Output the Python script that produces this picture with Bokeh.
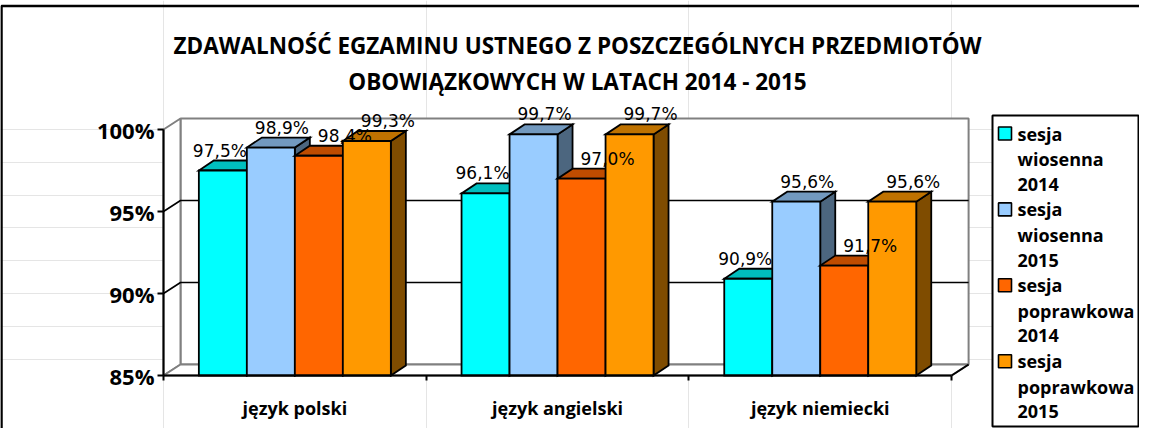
from bokeh.plotting import figure
from bokeh.models import Range1d, LinearAxis, FixedTicker, PrintfTickFormatter
from bokeh.embed import file_html
from bokeh.resources import INLINE
from bokeh.core.properties import value

# ---------------- data ----------------
categories = ["język polski", "język angielski", "język niemiecki"]
series_names = ["sesja\nwiosenna\n2014", "sesja\nwiosenna\n2015",
                "sesja\npoprawkowa\n2014", "sesja\npoprawkowa\n2015"]
wiosenna_2014 = [97.5, 96.1, 90.9]
wiosenna_2015 = [98.9, 99.7, 95.6]
poprawkowa_2014 = [98.4, 97.0, 91.7]
poprawkowa_2015 = [99.3, 99.7, 95.6]
y_ticks = [85, 90, 95, 100]
title_lines = ["ZDAWALNOŚĆ EGZAMINU USTNEGO Z POSZCZEGÓLNYCH PRZEDMIOTÓW",
               "OBOWIĄZKOWYCH W LATACH 2014 - 2015"]

series = [wiosenna_2014, wiosenna_2015, poprawkowa_2014, poprawkowa_2015]
colors = ["#00FFFF", "#99CCFF", "#FF6600", "#FF9900"]


def shade(hx, f):
    r, g, b = int(hx[1:3], 16), int(hx[3:5], 16), int(hx[5:7], 16)
    return "#%02x%02x%02x" % (int(r * f), int(g * f), int(b * f))


# ---------------- layout (page pixels) ----------------
W, H = 1139, 428
MARGIN = 8
AX_X_PX = 171 - MARGIN      # canvas x of the value axis
BASE_Y_PX = 383 - MARGIN    # canvas y of the 85% base line
PX_X = 262.7                # px per category
PX_Y = 16.4                 # px per percent
Y0 = y_ticks[0]
Y1 = y_ticks[-1]
NG = len(categories)


def cx(page_px):
    return (page_px - MARGIN - AX_X_PX) / PX_X


def cy(page_py):
    return Y0 + (MARGIN + BASE_Y_PX - page_py) / PX_Y


x_range = Range1d(-AX_X_PX / PX_X, (W - AX_X_PX) / PX_X)
y_range = Range1d(Y0 - (H - BASE_Y_PX) / PX_Y, Y0 + BASE_Y_PX / PX_Y)

p = figure(width=W, height=H, x_range=x_range, y_range=y_range,
           output_backend="svg", toolbar_location=None, title=None,
           x_axis_location=None, y_axis_location=None, min_border=0,
           background_fill_color="white", border_fill_color="white")
p.outline_line_color = None

# depth of walls and bars
dxw, dyw = 17 / PX_X, 11 / PX_Y
ddx, ddy = 15 / PX_X, 10 / PX_Y
BAR_W = 48 / PX_X
WALL = "#808080"

# back wall, left wall, floor
p.quad(left=[dxw], right=[NG + dxw], bottom=[Y0 + dyw], top=[Y1 + dyw],
       fill_color="white", line_color=WALL, line_width=2)
p.patch([0, 0, dxw, dxw], [Y0, Y1, Y1 + dyw, Y0 + dyw],
        fill_color="white", line_color=WALL, line_width=2)
p.patch([0, NG, NG + dxw, dxw], [Y0, Y0, Y0 + dyw, Y0 + dyw],
        fill_color="white", line_color=WALL, line_width=2)
p.line([NG, NG + dxw], [Y0, Y0 + dyw], line_color="black", line_width=2)

# gridlines on walls
grid_xs = [[0, dxw, NG + dxw] for t in y_ticks[1:-1]]
grid_ys = [[t, t + dyw, t + dyw] for t in y_ticks[1:-1]]
p.multi_line(grid_xs, grid_ys, line_color="black", line_width=1.6)

# bars
for i, vals in enumerate(series):
    lefts = [g + 0.5 - 2 * BAR_W + i * BAR_W for g in range(NG)]
    rights = [l + BAR_W for l in lefts]
    side_xs = [[r, r, r + ddx, r + ddx] for r in rights]
    side_ys = [[Y0, v, v + ddy, Y0 + ddy] for v in vals]
    top_xs = [[l, r, r + ddx, l + ddx] for l, r in zip(lefts, rights)]
    top_ys = [[v, v, v + ddy, v + ddy] for v in vals]
    p.patches(side_xs, side_ys, fill_color=shade(colors[i], 0.5),
              line_color="black", line_width=1.8, line_join="miter")
    p.patches(top_xs, top_ys, fill_color=shade(colors[i], 0.75),
              line_color="black", line_width=1.8, line_join="miter")
    p.quad(left=lefts, right=rights, bottom=[Y0] * NG, top=vals,
           fill_color=colors[i], line_color="black", line_width=1.8,
           line_join="miter")

# data labels
LABEL_RISE_PX = 20
LABEL_SHIFT_PX = [-3, 11, 26, 21]
for i, vals in enumerate(series):
    centers = [g + 0.5 - 1.5 * BAR_W + i * BAR_W for g in range(NG)]
    texts = [("%.1f" % v).replace(".", ",") + "%" for v in vals]
    p.text(x=centers, y=[v + LABEL_RISE_PX / PX_Y for v in vals], text=texts,
           x_offset=LABEL_SHIFT_PX[i],
           text_font=value("DejaVu Sans"), text_font_size="17px",
           text_color="black", text_align="center",
           text_baseline="alphabetic")

# axes
yaxis = LinearAxis(fixed_location=0, bounds=(Y0, Y1),
                   ticker=FixedTicker(ticks=y_ticks),
                   formatter=PrintfTickFormatter(format="%d%%"))
yaxis.axis_line_color = "black"
yaxis.axis_line_width = 2
yaxis.major_tick_line_color = "black"
yaxis.major_tick_line_width = 2
yaxis.major_tick_out = 6
yaxis.major_tick_in = 0
yaxis.minor_tick_out = 0
yaxis.minor_tick_in = 0
yaxis.major_label_standoff = 3
yaxis.major_label_text_font = "Open Sans"
yaxis.major_label_text_font_style = "bold"
yaxis.major_label_text_font_size = "22px"
yaxis.major_label_text_color = "black"
p.add_layout(yaxis, "left")

xaxis = LinearAxis(fixed_location=Y0, bounds=(0, NG),
                   ticker=FixedTicker(ticks=list(range(NG + 1))),
                   major_label_overrides={t: "" for t in range(NG + 1)})
xaxis.axis_line_color = "black"
xaxis.axis_line_width = 2
xaxis.major_tick_line_color = "black"
xaxis.major_tick_line_width = 2
xaxis.major_tick_out = 5
xaxis.major_tick_in = 0
xaxis.minor_tick_out = 0
xaxis.minor_tick_in = 0
p.add_layout(xaxis, "below")

cat_axis = LinearAxis(fixed_location=Y0,
                      ticker=FixedTicker(ticks=[g + 0.5 for g in range(NG)]),
                      major_label_overrides={g + 0.5: c for g, c in enumerate(categories)})
cat_axis.axis_line_color = None
cat_axis.major_tick_line_color = None
cat_axis.minor_tick_line_color = None
cat_axis.major_label_standoff = 14
cat_axis.major_label_text_font = "Open Sans"
cat_axis.major_label_text_font_style = "bold"
cat_axis.major_label_text_font_size = "18px"
cat_axis.major_label_text_color = "black"
p.add_layout(cat_axis, "below")

# title
p.text(x=[cx(585)] * 2, y=[cy(53), cy(89)], text=title_lines,
       text_font=value("Open Sans"), text_font_style="bold",
       text_font_size="22.5px", text_color="black", text_align="center",
       text_baseline="alphabetic")

# outer chart border (left and top; right/bottom fall outside the window)
p.line([cx(9), cx(9), cx(1300)], [cy(600), cy(13.5), cy(13.5)],
       line_color="black", line_width=2.5)

# legend (boxed key: swatch beside the first line of each entry)
LEG_LEFT, LEG_RIGHT, LEG_TOP = 1000, 1146, 123
LEG_BOTTOM = MARGIN + H - 2
LINE_STEP = 25.3
FIRST_LINE = 141
SW = 13
p.quad(left=[cx(LEG_LEFT)], right=[cx(LEG_RIGHT)], bottom=[cy(LEG_BOTTOM)],
       top=[cy(LEG_TOP)], fill_color="white", line_color="black", line_width=2)
sw_y, line_y, lbl_txt = [], [], []
for i, name in enumerate(series_names):
    lines = name.split("\n")
    base = FIRST_LINE + i * len(lines) * LINE_STEP
    sw_y.append(base)
    for j, ln in enumerate(lines):
        lbl_txt.append(ln)
        line_y.append(base + j * LINE_STEP)
p.quad(left=[cx(LEG_LEFT + 6)] * len(series_names),
       right=[cx(LEG_LEFT + 6 + SW)] * len(series_names),
       top=[cy(y - SW / 2) for y in sw_y], bottom=[cy(y + SW / 2) for y in sw_y],
       fill_color=colors, line_color="black", line_width=1.6)
p.text(x=[cx(LEG_LEFT + 6 + SW + 6)] * len(lbl_txt), y=[cy(y) for y in line_y],
       text=lbl_txt, text_font=value("Open Sans"), text_font_style="bold",
       text_font_size="18px", text_color="black", text_align="left",
       text_baseline="middle")

open("out.html", "w").write(file_html(p, INLINE))
